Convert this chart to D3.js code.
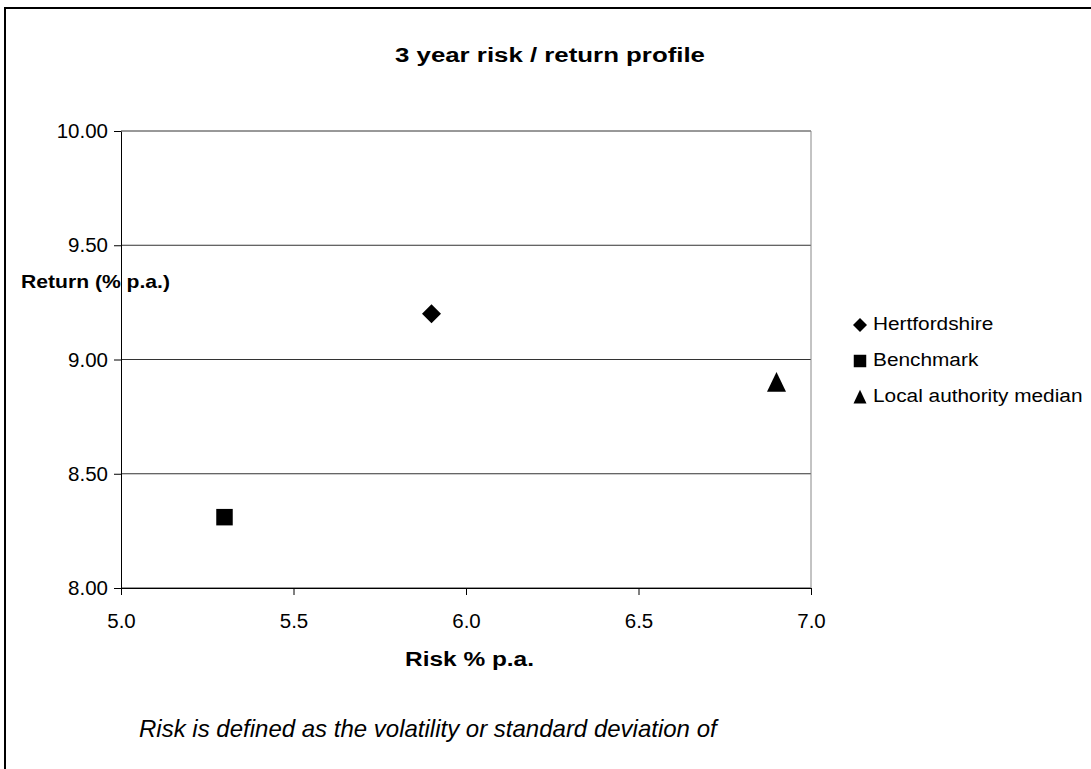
<!DOCTYPE html>
<html>
<head>
<meta charset="utf-8">
<script src="https://cdn.jsdelivr.net/npm/d3@7"></script>
<style>
  body { margin: 0; background: #fff; }
  text { font-family: "Liberation Sans", Arial, sans-serif; fill: #000; }
</style>
</head>
<body>
<div id="chart"></div>
<script>
const svgWidth = 1091;
const svgHeight = 769;

const margin = { top: 131, right: 280, bottom: 181, left: 121 };
const width = svgWidth - margin.left - margin.right;
const height = svgHeight - margin.top - margin.bottom;

// data
const seriesNames = ["Hertfordshire", "Benchmark", "Local authority median"];
const riskValues = [5.9, 5.3, 6.9];
const returnValues = [9.2, 8.31, 8.9];
const xTicks = [5.0, 5.5, 6.0, 6.5, 7.0];
const yTicks = [8.0, 8.5, 9.0, 9.5, 10.0];

// a slightly tall triangle, like the spreadsheet marker
const tallTriangle = {
  draw(context, size) {
    const w = Math.sqrt(size);
    context.moveTo(0, -w * 0.55);
    context.lineTo(w * 0.5, w * 0.5);
    context.lineTo(-w * 0.5, w * 0.5);
    context.closePath();
  }
};
const symbolTypes = [d3.symbolDiamond2, d3.symbolSquare, tallTriangle];

const svg = d3.select("#chart")
  .append("svg")
  .attr("width", svgWidth)
  .attr("height", svgHeight);

// outer frame (right/bottom edges fall outside the picture)
svg.append("rect")
  .attr("x", 5).attr("y", 8)
  .attr("width", 1100).attr("height", 800)
  .attr("fill", "none")
  .attr("stroke", "#000")
  .attr("stroke-width", 2);

const chartGroup = svg.append("g")
  .attr("transform", `translate(${margin.left}, ${margin.top})`);

const xScale = d3.scaleLinear().domain([5, 7]).range([0, width]);
const yScale = d3.scaleLinear().domain([8, 10]).range([height, 0]);

// y label sits under the axis line
svg.append("text")
  .attr("x", 21)
  .attr("y", 288)
  .attr("font-size", "19px")
  .attr("font-weight", "700")
  .attr("textLength", 149)
  .attr("lengthAdjust", "spacingAndGlyphs")
  .text("Return (% p.a.)");

// gridlines
chartGroup.append("g")
  .selectAll("line")
  .data(yTicks)
  .join("line")
  .attr("x1", 0).attr("x2", width)
  .attr("y1", d => yScale(d)).attr("y2", d => yScale(d))
  .attr("stroke", "#333")
  .attr("stroke-width", 1);

// right edge of plot area
chartGroup.append("line")
  .attr("x1", width).attr("x2", width)
  .attr("y1", 0).attr("y2", height)
  .attr("stroke", "#888");

const bottomAxis = d3.axisBottom(xScale)
  .tickValues(xTicks)
  .tickFormat(d3.format(".1f"))
  .tickSize(7)
  .tickSizeOuter(0);
const leftAxis = d3.axisLeft(yScale)
  .tickValues(yTicks)
  .tickFormat(d3.format(".2f"))
  .tickSize(7)
  .tickSizeOuter(0);

const xAxis = chartGroup.append("g")
  .attr("transform", `translate(0, ${height})`)
  .call(bottomAxis);
xAxis.select(".domain").attr("stroke", "#000");
xAxis.selectAll(".tick line").attr("stroke", "#000");
xAxis.selectAll(".tick text")
  .attr("y", 40)
  .attr("dy", 0)
  .attr("font-size", "20.5px")
  .attr("font-family", "Liberation Sans, Arial, sans-serif")
  .attr("fill", "#000");

const yAxis = chartGroup.append("g").call(leftAxis);
yAxis.select(".domain").attr("stroke", "#000");
yAxis.selectAll(".tick line").attr("stroke", "#000");
yAxis.selectAll(".tick text")
  .attr("x", -13)
  .attr("font-size", "20.5px")
  .attr("font-family", "Liberation Sans, Arial, sans-serif")
  .attr("fill", "#000");

// points
const sizes = [230, 272, 361];
chartGroup.append("g")
  .selectAll("path")
  .data(seriesNames)
  .join("path")
  .attr("transform", (d, i) => `translate(${xScale(riskValues[i])}, ${yScale(returnValues[i])})`)
  .attr("d", (d, i) => d3.symbol().type(symbolTypes[i]).size(sizes[i])())
  .attr("fill", "#000");

// title
svg.append("text")
  .attr("x", 395)
  .attr("y", 62)
  .attr("font-size", "20px")
  .attr("font-weight", "700")
  .attr("textLength", 310)
  .attr("lengthAdjust", "spacingAndGlyphs")
  .text("3 year risk / return profile");

// x label
svg.append("text")
  .attr("x", 405)
  .attr("y", 666)
  .attr("font-size", "20px")
  .attr("font-weight", "700")
  .attr("textLength", 129)
  .attr("lengthAdjust", "spacingAndGlyphs")
  .text("Risk % p.a.");

// footnote
svg.append("text")
  .attr("x", 139)
  .attr("y", 737)
  .attr("font-size", "24px")
  .attr("font-style", "italic")
  .text("Risk is defined as the volatility or standard deviation of");

// legend
const legendSizes = [125, 156, 169];
const legend = svg.append("g").attr("transform", "translate(860, 330)");
const legendItems = legend.selectAll("g")
  .data(seriesNames)
  .join("g")
  .attr("transform", (d, i) => `translate(0, ${i * 36})`);
legendItems.append("path")
  .attr("transform", "translate(0, -5)")
  .attr("d", (d, i) => d3.symbol().type(symbolTypes[i]).size(legendSizes[i])())
  .attr("fill", "#000");
legendItems.append("text")
  .attr("transform", "translate(13, 0) scale(1.12, 1)")
  .attr("font-size", "18.6px")
  .text(d => d);
</script>
</body>
</html>
